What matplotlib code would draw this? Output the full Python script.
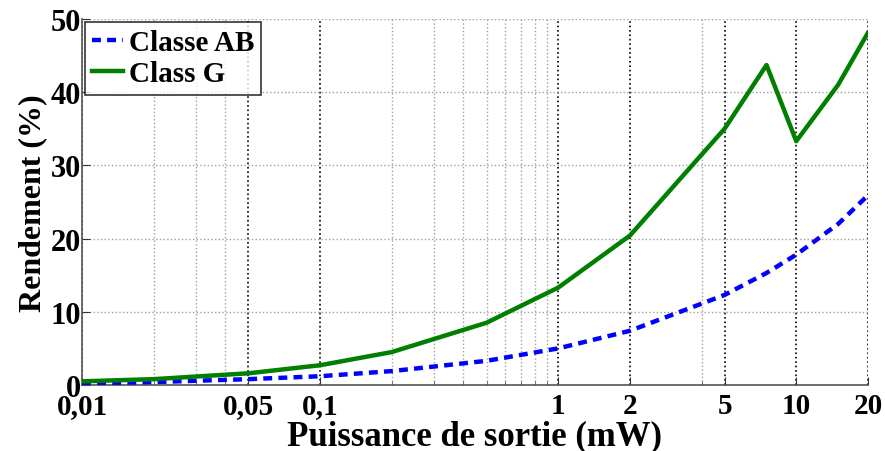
import matplotlib

matplotlib.use("Agg")

import matplotlib.pyplot as plt
from matplotlib.ticker import FixedLocator, NullFormatter

# data
power_mw = [0.01, 0.02, 0.05, 0.1, 0.2, 0.5, 1, 2, 5, 7.5, 10, 15, 20]
eff_ab = [0.2, 0.4, 0.8, 1.2, 1.9, 3.3, 5.0, 7.4, 12.3, 15.3, 17.8, 22.0, 25.9]
eff_g = [0.5, 0.8, 1.6, 2.7, 4.5, 8.5, 13.3, 20.4, 35.0, 43.7, 33.3, 41.0, 48.1]

x_ticks = [0.01, 0.05, 0.1, 1, 2, 5, 10, 20]
x_labels = ["0,01", "0,05", "0,1", "1", "2", "5", "10", "20"]
x_minor = [0.02, 0.03, 0.04, 0.2, 0.3, 0.4, 0.5, 0.6, 0.7, 0.8, 0.9, 4]
y_ticks = [0, 10, 20, 30, 40, 50]

plt.rcParams["font.family"] = ["Liberation Serif", "DejaVu Serif"]
plt.rcParams["font.weight"] = "bold"

fig = plt.figure(figsize=(8.85, 4.52), dpi=100)
ax = fig.add_axes([0.0927, 0.146, 0.888, 0.81])

ax.plot(power_mw, eff_ab, color="#0000ff", lw=3.2, linestyle=(0, (2.0, 1.4)),
        label="Classe AB", zorder=3)
ax.plot(power_mw, eff_g, color="#007f00", lw=3.2, label="Class G", zorder=3)

ax.set_xscale("log")
ax.set_xlim(0.01, 20)
ax.set_ylim(0, 50)
ax.xaxis.set_major_locator(FixedLocator(x_ticks))
ax.set_xticklabels(x_labels)
ax.xaxis.set_minor_locator(FixedLocator(x_minor))
ax.xaxis.set_minor_formatter(NullFormatter())
ax.set_yticks(y_ticks)

ax.grid(True, which="major", axis="x", color="black", linestyle=":", lw=1.2)
ax.grid(True, which="minor", axis="x", color="#a0a0a0", linestyle=":", lw=1.0)
ax.grid(True, which="major", axis="y", color="#a0a0a0", linestyle=":", lw=1.0)

for side in ("top", "right"):
    ax.spines[side].set_visible(False)
for side in ("left", "bottom"):
    ax.spines[side].set_color("#555555")
    ax.spines[side].set_linewidth(1.2)

ax.tick_params(axis="both", which="both", direction="in", labelsize=22)
ax.tick_params(axis="both", which="major", length=6, color="#333333")
ax.tick_params(axis="x", which="minor", length=3, color="#555555")
ax.tick_params(axis="x", which="major", labelsize=21, pad=5)
ax.tick_params(axis="y", which="major", pad=1)

ax.set_xlabel("Puissance de sortie (mW)", fontsize=25, fontweight="bold", labelpad=0)
ax.set_ylabel("Rendement (%)", fontsize=23, fontweight="bold", labelpad=2)

leg = ax.legend(loc="upper left", fontsize=21, frameon=True, fancybox=False,
                borderpad=0.25, handlelength=1.05, handletextpad=0.2,
                labelspacing=0.15, borderaxespad=0.1)
leg.get_frame().set_edgecolor("black")
leg.get_frame().set_linewidth(1.2)
for text in leg.get_texts():
    text.set_fontweight("bold")

fig.savefig("out.png", dpi=100)
